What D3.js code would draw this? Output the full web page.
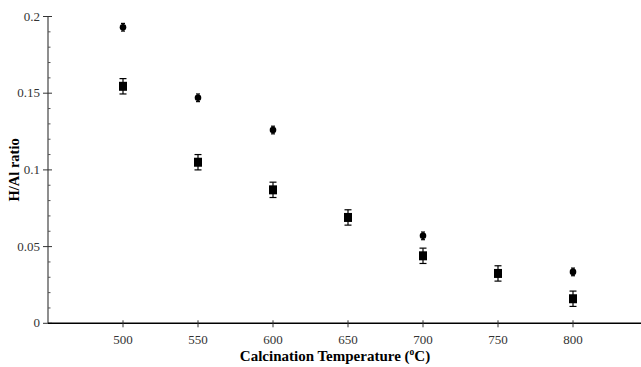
<!DOCTYPE html>
<html>
<head>
<meta charset="utf-8">
<script src="https://cdn.jsdelivr.net/npm/d3@7"></script>
<style>
  html, body { margin: 0; padding: 0; background: #fff; }
  svg { display: block; }
</style>
</head>
<body>
<svg id="chart" width="641" height="367" font-family="'Liberation Serif', 'DejaVu Serif', serif"></svg>
<script>
// Calcination temperatures (°C)
const temperatures = [500, 550, 600, 650, 700, 750, 800];

// Series A (filled circles): H/Al ratio and its error
const circleTemps  = [500, 550, 600, 700, 800];
const circleValues = [0.193, 0.147, 0.126, 0.057, 0.0335];
const circleErrors = [0.0025, 0.0025, 0.0025, 0.0025, 0.0025];

// Series B (filled squares): H/Al ratio and its error
const squareTemps  = [500, 550, 600, 650, 700, 750, 800];
const squareValues = [0.1545, 0.105, 0.087, 0.069, 0.044, 0.0325, 0.016];
const squareErrors = [0.005, 0.005, 0.005, 0.005, 0.005, 0.005, 0.005];

const yTicks = [0, 0.05, 0.1, 0.15, 0.2];
const xTicks = temperatures;

(function () {
const svg = d3.select("#chart");
const mLeft = 48, mRight = 648, mTop = 16.5, mBottom = 323.3;

const x = d3.scaleLinear().domain([450, 850]).range([mLeft, mRight]);
const y = d3.scaleLinear().domain([0, 0.2]).range([mBottom, mTop]);

// y axis line
svg.append("line")
  .attr("x1", mLeft).attr("x2", mLeft)
  .attr("y1", y(0.2)).attr("y2", y(0))
  .attr("stroke", "#444").attr("stroke-width", 1.2);

// y minor ticks (inside)
const yMinor = d3.range(0, 0.2001, 0.01).filter(v => Math.abs(v / 0.05 - Math.round(v / 0.05)) > 1e-6);
svg.append("g").selectAll("line").data(yMinor).join("line")
  .attr("x1", mLeft).attr("x2", mLeft + 2.5)
  .attr("y1", d => y(d)).attr("y2", d => y(d))
  .attr("stroke", "#555").attr("stroke-width", 1);

// y major ticks (crossing)
svg.append("g").selectAll("line").data(yTicks).join("line")
  .attr("x1", mLeft - 5).attr("x2", mLeft + 4)
  .attr("y1", d => y(d)).attr("y2", d => y(d))
  .attr("stroke", "#333").attr("stroke-width", 1);

svg.append("g").selectAll("text").data(yTicks).join("text")
  .attr("x", mLeft - 8).attr("y", d => y(d) + 4)
  .attr("text-anchor", "end")
  .attr("font-size", 13).attr("fill", "#333")
  .text(d => d3.format("")(d));

// x axis line
svg.append("line")
  .attr("x1", mLeft).attr("x2", mRight)
  .attr("y1", mBottom).attr("y2", mBottom)
  .attr("stroke", "#000").attr("stroke-width", 1.4);

svg.append("g").selectAll("line").data(xTicks).join("line")
  .attr("x1", d => x(d)).attr("x2", d => x(d))
  .attr("y1", mBottom - 3).attr("y2", mBottom + 4)
  .attr("stroke", "#333").attr("stroke-width", 1);

svg.append("g").selectAll("text").data(xTicks).join("text")
  .attr("x", d => x(d)).attr("y", mBottom + 21)
  .attr("text-anchor", "middle")
  .attr("font-size", 13).attr("fill", "#333")
  .text(d => d);

// axis titles
svg.append("text")
  .attr("transform", `translate(19,${(mTop + mBottom) / 2}) rotate(-90)`)
  .attr("text-anchor", "middle")
  .attr("font-size", 14.5).attr("font-weight", "bold")
  .text("H/Al ratio");

const xt = svg.append("text")
  .attr("x", x(650) - 13).attr("y", 361)
  .attr("text-anchor", "middle")
  .attr("font-size", 15).attr("font-weight", "bold");
xt.append("tspan").text("Calcination Temperature (");
xt.append("tspan").attr("font-size", 9.5).attr("dy", -6).text("o");
xt.append("tspan").attr("dy", 6).text("C)");

// error bars helper
function errorBars(g, temps, vals, errs, cap) {
  const data = temps.map((t, i) => ({ t, v: vals[i], e: errs[i] }));
  const eg = g.append("g").attr("stroke", "#000").attr("stroke-width", 1.2);
  eg.selectAll("line.v").data(data).join("line").attr("class", "v")
    .attr("x1", d => x(d.t)).attr("x2", d => x(d.t))
    .attr("y1", d => y(d.v + d.e)).attr("y2", d => y(d.v - d.e));
  eg.selectAll("line.t").data(data).join("line").attr("class", "t")
    .attr("x1", d => x(d.t) - cap).attr("x2", d => x(d.t) + cap)
    .attr("y1", d => y(d.v + d.e)).attr("y2", d => y(d.v + d.e));
  eg.selectAll("line.b").data(data).join("line").attr("class", "b")
    .attr("x1", d => x(d.t) - cap).attr("x2", d => x(d.t) + cap)
    .attr("y1", d => y(d.v - d.e)).attr("y2", d => y(d.v - d.e));
  return data;
}

const plot = svg.append("g");

// squares
const sq = errorBars(plot, squareTemps, squareValues, squareErrors, 3.5);
plot.append("g").selectAll("rect").data(sq).join("rect")
  .attr("x", d => x(d.t) - 4).attr("y", d => y(d.v) - 4.5)
  .attr("width", 8).attr("height", 9)
  .attr("fill", "#000");

// circles
const ci = errorBars(plot, circleTemps, circleValues, circleErrors, 2);
plot.append("g").selectAll("circle").data(ci).join("circle")
  .attr("cx", d => x(d.t)).attr("cy", d => y(d.v))
  .attr("r", 3.3)
  .attr("fill", "#000");
})();
</script>
</body>
</html>
